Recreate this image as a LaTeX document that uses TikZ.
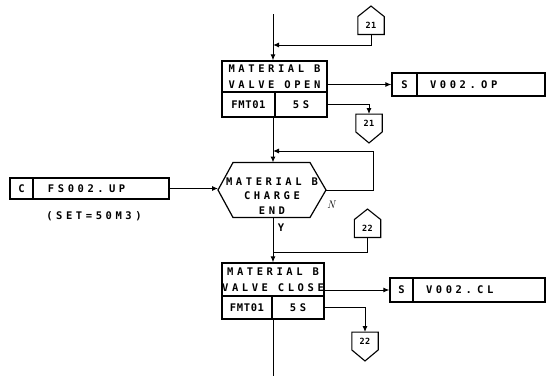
\documentclass[tikz,border=0pt]{standalone}
\usepackage{fontspec}
\usepackage{tikz}
\usetikzlibrary{arrows.meta,positioning,calc}
\newfontfamily\plcfont[LetterSpace=34]{DejaVu Sans Mono}
\newfontfamily\plcnarrow[LetterSpace=6]{DejaVu Sans Mono}
% off-page connector outlines round a named node
\newcommand\offpageup[1]{\draw[line width=1.1pt] (#1.south west) -- (#1.north west) -- ([yshift=10.5pt]#1.north) -- (#1.north east) -- (#1.south east) -- cycle;}
\newcommand\offpagedown[1]{\draw[line width=1.1pt] (#1.north west) -- (#1.south west) -- ([yshift=-11pt]#1.south) -- (#1.south east) -- (#1.north east) -- cycle;}

\begin{document}
\begin{tikzpicture}[
  x=1pt, y=1pt,
  font=\plcfont\bfseries\fontsize{10.5}{16}\selectfont,
  cell/.style={draw=black, line width=1.2pt, inner sep=0pt, align=center},
  valcell/.style={cell, align=left, inner xsep=13pt, text width=#1},
  arrow/.style={-{Latex[length=6pt,width=5pt]}, line width=1pt},
  link/.style={line width=1pt},
  offpage/.style={minimum width=26pt, minimum height=17.5pt, inner sep=0pt, font=\plcnarrow\bfseries\fontsize{8.5}{9}\selectfont}
]
  \useasboundingbox (0,0) rectangle (550,-378);

  % valve open step
  \coordinate (start) at (273,-14);
  \node[offpage] (con21a) at (371,-25.5) {21};
  \node[cell, minimum width=105, minimum height=31] (mat1) at (274.5,-76.5) {MATERIAL B\\VALVE OPEN};
  \node[cell, minimum width=53, minimum height=25, font=\plcnarrow\bfseries\fontsize{10.5}{12}\selectfont] (fmt1) at (248.5,-104.5) {FMT01};
  \node[cell, minimum width=52, minimum height=25] (tim1) at (301,-104.5) {5S};
  \node[cell, minimum width=25, minimum height=23] (s1) at (404.5,-84.5) {S};
  \node[valcell=102pt, minimum height=23] (v1) at (481,-84.5) {V002. OP};
  \node[offpage] (con21b) at (369,-123) {21};
  \offpageup{con21a}
  \offpagedown{con21b}

  % charge end check
  \coordinate (hexc) at (272,-190);
  \coordinate (hexW) at ($(hexc)+(-54,0)$);
  \coordinate (hexE) at ($(hexc)+(54,0)$);
  \coordinate (hexN) at ($(hexc)+(1,27.5)$);
  \coordinate (hexS) at ($(hexc)+(1,-27.5)$);
  \node[align=center, font=\plcfont\bfseries\fontsize{10.5}{14.5}\selectfont] (chk) at (272,-196) {MATERIAL B\\CHARGE\\END};
  \draw[line width=1.2pt] (hexW) -- ($(hexc)+(-39,27.5)$) -- ($(hexc)+(38,27.5)$) -- (hexE)
    -- ($(hexc)+(38,-27.5)$) -- ($(hexc)+(-39,-27.5)$) -- cycle;
  \node[cell, minimum width=23, minimum height=21] (c1) at (21.5,-188.5) {C};
  \node[valcell=106pt, inner xsep=15pt, minimum height=21] (fs1) at (101,-188.5) {FS002. UP};
  \node (set1) at (94,-216) {(SET=50M3)};
  \node (yes) at (281,-228) {Y};
  \node[font=\rmfamily\itshape\fontsize{11}{12}\selectfont] (no) at (331,-205) {N};
  \node[offpage] (con22a) at (367.5,-228.5) {22};
  \offpageup{con22a}

  % valve close step
  \node[cell, minimum width=102, minimum height=33] (mat2) at (273,-279.5) {MATERIAL B\\\makebox[96pt]{VALVE CLOSE}};
  \node[cell, minimum width=50, minimum height=23, font=\plcnarrow\bfseries\fontsize{10.5}{12}\selectfont] (fmt2) at (247,-307.5) {FMT01};
  \node[cell, minimum width=52, minimum height=23] (tim2) at (298,-307.5) {5S};
  \node[cell, minimum width=23, minimum height=24] (s2) at (401.5,-290) {S};
  \node[valcell=106pt, minimum height=24] (v2) at (479,-290) {V002. CL};
  \node[offpage] (con22b) at (365,-341) {22};
  \offpagedown{con22b}
  \coordinate (finish) at (273,-376);

  \coordinate (j1) at (273,-45);
  \coordinate (j2) at (273,-151);
  \coordinate (j3) at (273,-252);

  \draw[arrow] (start) -- (start |- mat1.north);
  \draw[arrow] (con21a.south) |- (j1);
  \draw[arrow] (mat1.east |- s1.west) -- (s1.west);
  \draw[arrow] (tim1.east) -| (con21b.north);
  \draw[arrow] (start |- fmt1.south) -- (hexN);
  \draw[arrow] (hexE) -- ++(47,0) |- (j2);
  \draw[arrow] (fs1.east) -- (fs1.east -| hexW);
  \draw[arrow] (hexS) -- (hexS |- mat2.north);
  \draw[link] (con22a.south) |- (j3);
  \draw[arrow] (mat2.east |- s2.west) -- (s2.west);
  \draw[arrow] (tim2.east) -| (con22b.north);
  \draw[link] (start |- fmt2.south) -- (finish);
\end{tikzpicture}
\end{document}
